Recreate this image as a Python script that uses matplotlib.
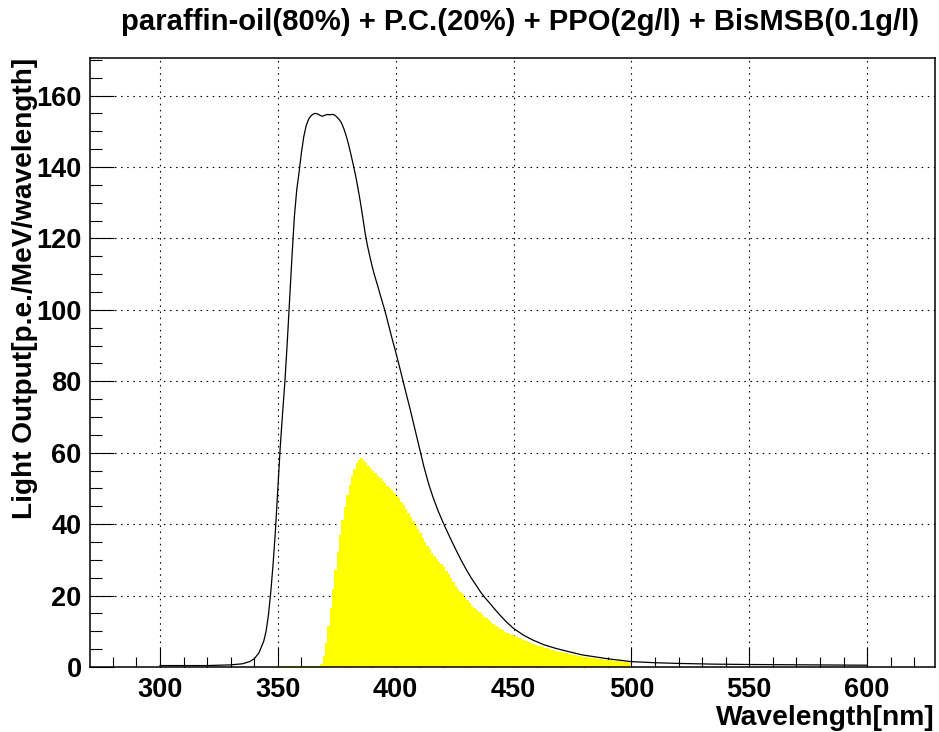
import numpy as np
import matplotlib
matplotlib.use("Agg")
import matplotlib.pyplot as plt

plt.rcParams['font.family'] = ['Liberation Sans', 'DejaVu Sans']
plt.rcParams['font.weight'] = 'bold'
plt.rcParams['lines.scale_dashes'] = False

TITLE = "paraffin-oil(80%) + P.C.(20%) + PPO(2g/l) + BisMSB(0.1g/l)"
XLABEL = "Wavelength[nm]"
YLABEL = "Light Output[p.e./MeV/wavelength]"

# Total light output curve (wavelength in nm, p.e./MeV/wavelength)
curve_wl = [300, 310, 320, 330, 335, 338, 340, 342, 344, 345, 346, 347, 348, 349,
            350, 351, 352, 353, 354, 355, 356, 357, 358, 359, 360, 361, 362, 363,
            364, 365, 366, 367, 368, 369, 370, 371, 372, 373, 374, 375, 376, 377,
            378, 379, 380, 381, 382, 383, 384, 385, 386, 387, 388, 389, 390, 391,
            392, 393, 394, 395, 396, 397, 398, 399, 400, 402, 404, 406, 408, 410,
            412, 414, 416, 418, 420, 422, 424, 426, 428, 430, 432, 434, 436, 438,
            440, 442, 444, 447, 450, 454, 458, 463, 468, 474, 479, 485, 490, 495,
            500, 510, 520, 535, 550, 575, 600]
curve_val = [0.4, 0.4, 0.4, 0.6, 0.9, 1.5, 2.3, 4.0, 7.2, 10.0, 14.5, 21.0, 29.0, 38.5,
             50.0, 61.5, 71.0, 80.0, 91.0, 103.0, 115.0, 126.0, 133.5, 138.5, 144.0, 148.5, 151.5, 153.3,
             154.3, 154.8, 155.0, 154.8, 154.4, 154.2, 154.5, 154.7, 154.6, 154.7, 154.6, 154.0, 153.3, 152.3,
             150.7, 148.7, 146.3, 143.5, 140.6, 137.5, 134.0, 130.2, 126.0, 121.6, 118.0, 115.0, 112.2, 109.7,
             107.5, 105.2, 102.9, 100.7, 98.3, 95.7, 93.1, 90.6, 88.2, 83.0, 77.7, 72.5, 67.0, 61.5,
             56.0, 51.2, 47.2, 43.7, 40.6, 37.7, 34.9, 32.2, 29.6, 27.2, 25.0, 23.0, 21.0, 19.3,
             17.8, 16.2, 14.7, 12.6, 10.8, 9.0, 7.6, 6.2, 5.2, 4.2, 3.4, 2.8, 2.3, 1.9,
             1.5, 1.2, 1.0, 0.8, 0.7, 0.6, 0.5]

# Detected light output histogram, 1 nm bins from 350 nm to 500 nm
hist_lo = np.arange(350, 500)
hist_val = [0.3, 0.3, 0.3, 0.3, 0.3, 0.3, 0.3, 0.3, 0.3, 0.3,   # 350-359
            0.3, 0.3, 0.3, 0.3, 0.3, 0.3, 0.3, 0.3, 0.8, 3.1,   # 360-369
            6.8, 11.5, 16.4, 21.8, 27.2, 32.1, 37.0, 41.2, 44.7, 48.2,   # 370-379
            51.0, 53.5, 55.4, 57.2, 58.0, 58.5, 57.8, 57.1, 56.2, 55.4,  # 380-389
            54.8, 54.3, 53.5, 52.8, 52.1, 51.5, 50.8, 50.1, 49.5, 48.6,  # 390-399
            47.9, 47.2, 46.3, 45.3, 44.3, 43.0, 41.9, 40.8, 39.7, 38.6,  # 400-409
            37.5, 36.2, 35.0, 34.0, 33.0, 32.0, 31.1, 30.3, 29.5, 28.7,  # 410-419
            27.9, 27.0, 26.0, 24.9, 23.8, 22.8, 21.9, 21.1, 20.3, 19.5,  # 420-429
            18.7, 17.9, 17.2, 16.5, 15.9, 15.3, 14.7, 14.1, 13.6, 13.1,  # 430-439
            12.6, 12.1, 11.6, 11.1, 10.7, 10.3, 9.9, 9.6, 9.3, 9.0,      # 440-449
            8.7, 8.4, 8.1, 7.8, 7.5, 7.2, 6.9, 6.6, 6.4, 6.2,            # 450-459
            6.0, 5.8, 5.6, 5.4, 5.2, 5.0, 4.8, 4.6, 4.4, 4.2,            # 460-469
            4.1, 3.9, 3.8, 3.6, 3.5, 3.4, 3.3, 3.1, 3.0, 2.9,            # 470-479
            2.8, 2.7, 2.6, 2.5, 2.4, 2.3, 2.2, 2.1, 2.0, 2.0,            # 480-489
            1.9, 1.9, 1.8, 1.8, 1.7, 1.6, 1.5, 1.4, 1.3, 1.2]            # 490-499

XMIN, XMAX = 270.3, 628.8
YMIN, YMAX = 0.0, 170.5

fig = plt.figure(figsize=(9.39, 7.32), dpi=100)
ax = fig.add_axes([90 / 939, 65 / 732, 845 / 939, 609 / 732])
ax.set_axisbelow(True)

edges = np.append(hist_lo, hist_lo[-1] + 1)
ax.stairs(hist_val, edges, fill=True, color='#ffff00', lw=0, zorder=2)
ax.plot(curve_wl, curve_val, color='black', lw=0.9, zorder=3)

ax.set_xlim(XMIN, XMAX)
ax.set_ylim(YMIN, YMAX)

ax.set_xticks(np.arange(300, 601, 50))
ax.set_xticks(np.arange(280, 630, 10), minor=True)
ax.set_yticks(np.arange(0, 161, 20))
ax.set_yticks(np.arange(0, 171, 5), minor=True)

ax.grid(True, which='major', color='black', lw=0.8, linestyle=(0, (1.1, 3.3)))

ax.tick_params(axis='x', which='major', direction='in', length=14.4, width=0.8,
               labelsize=19.5, pad=7.5)
ax.tick_params(axis='x', which='minor', direction='in', length=7.2, width=0.8)
ax.tick_params(axis='y', which='major', direction='in', length=17.3, width=0.8,
               labelsize=19.5, pad=6)
ax.tick_params(axis='y', which='minor', direction='in', length=8.6, width=0.8)
for lab in ax.get_xticklabels() + ax.get_yticklabels():
    lab.set_fontweight('bold')

for sp in ax.spines.values():
    sp.set_linewidth(1.1)

fig.text(520 / 939, 1 - 22 / 732, TITLE, ha='center', va='center',
         fontsize=21.1, fontweight='bold')
fig.text(935 / 939, 1 - 725 / 732, XLABEL, ha='right', va='baseline',
         fontsize=20.3, fontweight='bold')
fig.text(25 / 939, 1 - 58 / 732, YLABEL, ha='center', va='top', rotation=90,
         fontsize=20.2, fontweight='bold')

fig.savefig('out.png', dpi=100)
